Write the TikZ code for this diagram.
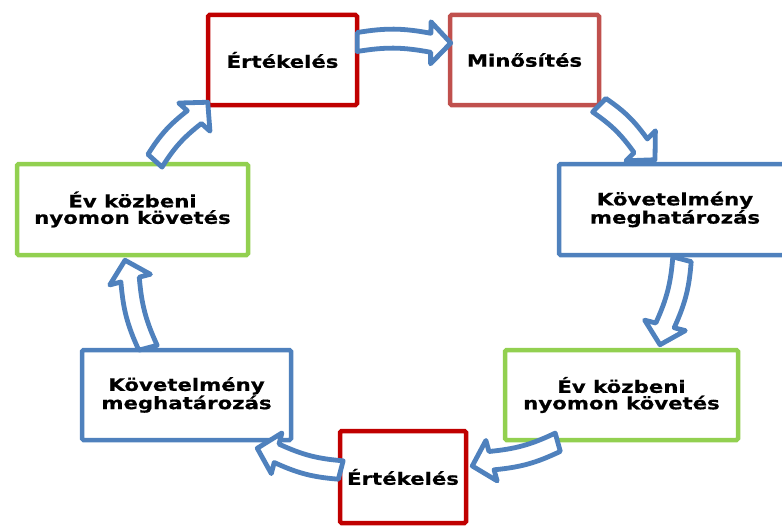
\documentclass[tikz,border=0pt]{standalone}
\usepackage{fontspec}
\usepackage{tikz}
\usetikzlibrary{calc, positioning}
\newfontfamily\boxfont[FakeStretch=1.25, FakeBold=0.6]{DejaVu Sans}
\definecolor{evalred}{HTML}{C00000}
\definecolor{gradered}{HTML}{C0504D}
\definecolor{reqblue}{HTML}{4F81BD}
\definecolor{trackgreen}{HTML}{92D050}
\definecolor{arrowblue}{HTML}{4F81BD}

\tikzset{
  stagebox/.style={draw, line width=4.5pt, fill=white, rounded corners=1.5pt, align=center, inner sep=0pt,
    font=\boxfont\bfseries\fontsize{17}{16.5}\selectfont},
  evalbox/.style={stagebox, draw=evalred},
  gradebox/.style={stagebox, draw=gradered},
  reqbox/.style={stagebox, draw=reqblue},
  trackbox/.style={stagebox, draw=trackgreen},
  cyclearrowline/.style={draw=arrowblue, fill=white, line width=4.8pt, line join=round}
}

% hollow block arrow: tail, tip, bend
\newcommand{\cyclearrow}[3]{%
  \coordinate (hb) at ($(#2)!20pt!(#1)$);
  \draw[cyclearrowline] ($(#1)!9.5pt!90:(#2)$) to[bend left=#3] ($(hb)!9.5pt!90:(#2)$)
    -- ($(hb)!21pt!90:(#2)$) -- (#2) -- ($(hb)!21pt!-90:(#2)$)
    -- ($(hb)!9.5pt!-90:(#2)$) to[bend right=#3] ($(#1)!9.5pt!-90:(#2)$) -- cycle;
}

\begin{document}
\begin{tikzpicture}[x=1pt, y=-1pt]
  \useasboundingbox (0,0) rectangle (782,527);
  \clip (0,0) rectangle (782,527);

  % Stages
  \node[evalbox, minimum width=149pt, minimum height=90pt] (ert1) at (282.5,60) {Értékelés};
  \node[gradebox, minimum width=149pt, minimum height=90pt] (min) at (524.5,60) {Minősítés};
  \node[reqbox, minimum width=232pt, minimum height=91pt] (kov1) at (675,209.5) {Követelmény\\meghatározás};
  \node[trackbox, minimum width=233pt, minimum height=90pt] (ev1) at (621.5,395) {Év közbeni\\nyomon követés};
  \node[evalbox, minimum width=126pt, minimum height=92pt] (ert2) at (403,477) {Értékelés};
  \node[reqbox, minimum width=209pt, minimum height=90pt] (kov2) at (186.5,395) {Követelmény\\meghatározás};
  \node[trackbox, minimum width=231pt, minimum height=91pt] (ev2) at (132.5,209.5) {Év közbeni\\nyomon követés};

  % Arrow ends
  \coordinate (a1s) at ($(ert1.east)+(-2,-18)$);
  \coordinate (a1t) at ($(min.west)+(3,-17)$);
  \coordinate (a2s) at ($(min.south east)+(-2,-2)$);
  \coordinate (a2t) at ($(kov1.north)+(-20,-2)$);
  \coordinate (a3s) at ($(kov1.south)+(7,2)$);
  \coordinate (a3t) at ($(ev1.north)+(38.5,-3)$);
  \coordinate (a4s) at ($(ev1.south west)+(55,0)$);
  \coordinate (a4t) at ($(ert2.east)+(4,-11)$);
  \coordinate (a5s) at ($(ert2.west)+(3,-7)$);
  \coordinate (a5t) at ($(kov2.south east)+(-36,6)$);
  \coordinate (a6s) at ($(kov2.north)+(-38.5,0)$);
  \coordinate (a6t) at ($(ev2.south)+(-7.5,3)$);
  \coordinate (a7s) at ($(ev2.north)+(22.5,-1)$);
  \coordinate (a7t) at ($(ert1.south west)+(2,-5)$);

  % Cycle arrows
  \cyclearrow{a1s}{a1t}{10}
  \cyclearrow{a2s}{a2t}{10}
  \cyclearrow{a3s}{a3t}{10}
  \cyclearrow{a4s}{a4t}{10}
  \cyclearrow{a5s}{a5t}{10}
  \cyclearrow{a6s}{a6t}{10}
  \cyclearrow{a7s}{a7t}{10}
\end{tikzpicture}
\end{document}
